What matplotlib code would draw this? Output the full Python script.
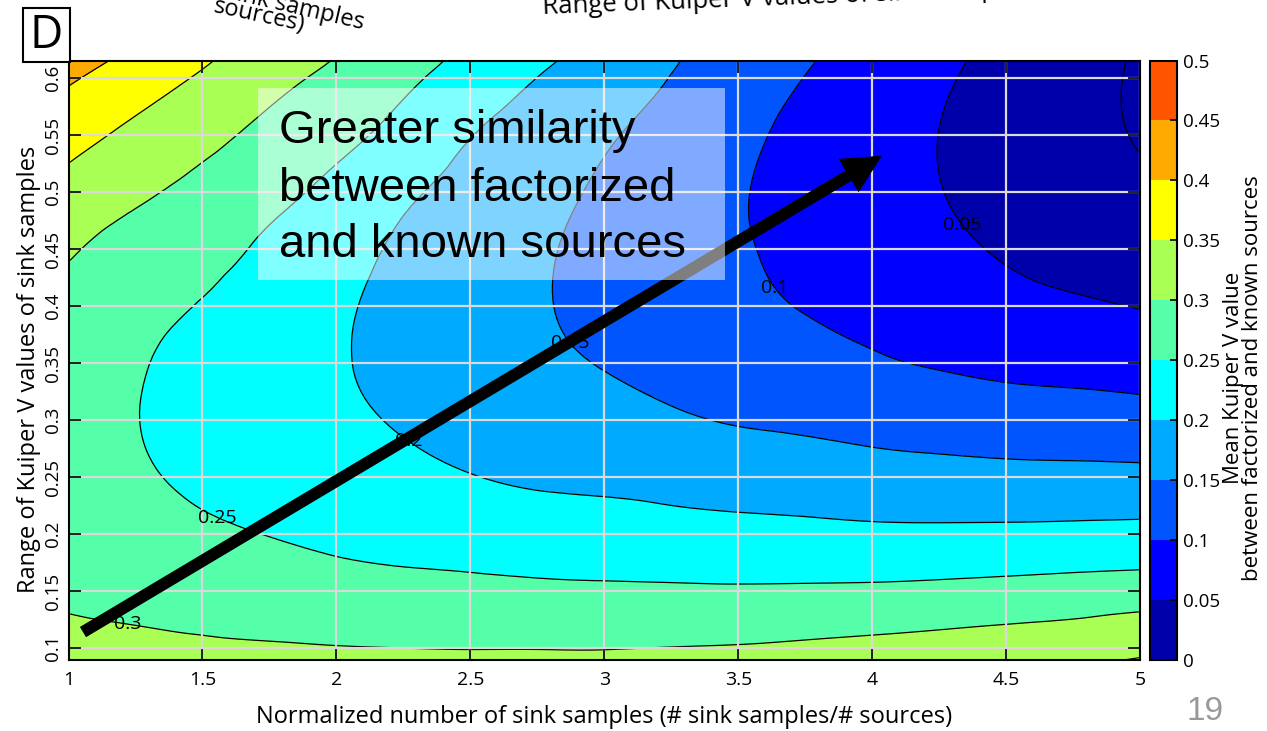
import numpy as np
import matplotlib
matplotlib.use("Agg")
import matplotlib.pyplot as plt
import matplotlib.tri as mtri
from matplotlib.colors import ListedColormap, BoundaryNorm
from matplotlib.cm import ScalarMappable
from matplotlib.patches import Rectangle, FancyArrowPatch, ArrowStyle

plt.rcParams["font.family"] = ["Open Sans", "DejaVu Sans"]

# Normalized number of sink samples (grid columns)
sink_ratio = [1.0, 1.25, 1.5, 1.75, 2.0, 2.25, 2.5, 2.75, 3.0,
              3.25, 3.5, 3.75, 4.0, 4.25, 4.5, 4.75, 5.0]
# Range of Kuiper V values of sink samples (grid rows)
kuiper_range = [0.0895, 0.10, 0.15, 0.20, 0.25, 0.30, 0.35, 0.40,
                0.45, 0.50, 0.55, 0.60, 0.6155]

# Mean Kuiper V value for each sink_ratio column, listed along kuiper_range
v_100 = [0.318, 0.313, 0.2925, 0.278, 0.270, 0.268, 0.2725, 0.283, 0.3057, 0.334, 0.367, 0.406, 0.42]
v_125 = [0.316, 0.3106, 0.2853, 0.2668, 0.2553, 0.251, 0.254, 0.2644, 0.2821, 0.308, 0.3387, 0.3744, 0.3876]
v_150 = [0.312, 0.306, 0.280, 0.257, 0.2429, 0.2358, 0.236, 0.2473, 0.2672, 0.2877, 0.3127, 0.3443, 0.3556]
v_175 = [0.311, 0.304, 0.2733, 0.249, 0.2319, 0.2219, 0.219, 0.224, 0.2408, 0.2643, 0.288, 0.3138, 0.324]
v_200 = [0.3088, 0.3015, 0.267, 0.2407, 0.2214, 0.209, 0.2036, 0.2056, 0.2167, 0.2368, 0.2633, 0.2893, 0.298]
v_225 = [0.308, 0.300, 0.264, 0.2334, 0.2113, 0.196, 0.1882, 0.1874, 0.1928, 0.2078, 0.2337, 0.2601, 0.2698]
v_250 = [0.307, 0.299, 0.2618, 0.228, 0.2014, 0.1834, 0.1732, 0.1704, 0.1743, 0.1845, 0.2013, 0.2281, 0.2372]
v_275 = [0.307, 0.299, 0.2587, 0.2235, 0.1936, 0.1726, 0.1593, 0.1539, 0.1559, 0.1642, 0.1787, 0.1996, 0.208]
v_300 = [0.307, 0.2988, 0.257, 0.222, 0.189, 0.165, 0.148, 0.1386, 0.1373, 0.1432, 0.1558, 0.1753, 0.1813]
v_325 = [0.309, 0.3008, 0.2563, 0.2179, 0.183, 0.1555, 0.136, 0.1245, 0.12, 0.1225, 0.1321, 0.1488, 0.1535]
v_350 = [0.3117, 0.3027, 0.2557, 0.2145, 0.177, 0.1472, 0.1264, 0.112, 0.1043, 0.1032, 0.1096, 0.1234, 0.13]
v_375 = [0.317, 0.307, 0.2567, 0.2119, 0.1739, 0.1422, 0.118, 0.0974, 0.0883, 0.0852, 0.0886, 0.0992, 0.104]
v_400 = [0.3225, 0.3118, 0.2582, 0.2092, 0.1692, 0.134, 0.1053, 0.0858, 0.0735, 0.0678, 0.069, 0.0773, 0.0819]
v_425 = [0.3297, 0.318, 0.2612, 0.2091, 0.166, 0.128, 0.0965, 0.0743, 0.0592, 0.0512, 0.0497, 0.0558, 0.0592]
v_450 = [0.336, 0.3242, 0.2652, 0.2102, 0.1635, 0.123, 0.089, 0.063, 0.0459, 0.0353, 0.0315, 0.0348, 0.0376]
v_475 = [0.3427, 0.3305, 0.2695, 0.212, 0.1628, 0.1205, 0.085, 0.0556, 0.0347, 0.0209, 0.0141, 0.0146, 0.0167]
v_500 = [0.352, 0.3417, 0.2744, 0.214, 0.162, 0.1172, 0.080, 0.0485, 0.027, 0.0095, -0.003, -0.005, -0.0045]

columns = [v_100, v_125, v_150, v_175, v_200, v_225, v_250, v_275, v_300,
           v_325, v_350, v_375, v_400, v_425, v_450, v_475, v_500]

bounds = [0, 0.05, 0.1, 0.15, 0.2, 0.25, 0.3, 0.35, 0.4, 0.45, 0.5]
bound_labels = ["0", "0.05", "0.1", "0.15", "0.2", "0.25", "0.3", "0.35", "0.4", "0.45", "0.5"]
labelled_levels = [0.05, 0.1, 0.15, 0.2, 0.25, 0.3]
plain_levels = [0, 0.35, 0.4]
label_spots = [(1.22, 0.121), (1.56, 0.216), (2.27, 0.281),
               (2.88, 0.369), (3.63, 0.415), (4.33, 0.470)]
band_colors = ["#0000AA", "#0000FF", "#0055FF", "#00AAFF", "#00FFFF",
               "#55FFAA", "#AAFF55", "#FFFF00", "#FFAA00", "#FF5500"]

x_ticks = [1, 1.5, 2, 2.5, 3, 3.5, 4, 4.5, 5]
x_tick_labels = ["1", "1.5", "2", "2.5", "3", "3.5", "4", "4.5", "5"]
y_ticks = [0.1, 0.15, 0.2, 0.25, 0.3, 0.35, 0.4, 0.45, 0.5, 0.55, 0.6]
y_tick_labels = ["0.1", "0.15", "0.2", "0.25", "0.3", "0.35", "0.4", "0.45", "0.5", "0.55", "0.6"]

W, H = 1267, 731
fig = plt.figure(figsize=(W / 100, H / 100), dpi=100)
fig.patch.set_facecolor("white")
ax = fig.add_axes([68.5 / W, 1 - 660 / H, (1140 - 68.5) / W, 599.5 / H])
cax = fig.add_axes([1150 / W, 1 - 660 / H, 27 / W, 599.5 / H])

X, Y = np.meshgrid(sink_ratio, kuiper_range)
Z = np.column_stack(columns)

# smooth contouring of the surface on a refined triangulation (built in unit-square space)
x0, x1 = sink_ratio[0], sink_ratio[-1]
y0, y1 = kuiper_range[0], kuiper_range[-1]
base = mtri.Triangulation(((X - x0) / (x1 - x0)).ravel(), ((Y - y0) / (y1 - y0)).ravel())
fine, z_fine = mtri.UniformTriRefiner(base).refine_field(Z.ravel(), subdiv=3)
surf = mtri.Triangulation(fine.x * (x1 - x0) + x0, fine.y * (y1 - y0) + y0, fine.triangles)

# filled bands (values below zero share the lowest colour)
ax.tricontourf(surf, z_fine, levels=[-0.05] + bounds,
               colors=[band_colors[0]] + band_colors, zorder=1)
cs = ax.tricontour(surf, z_fine, levels=labelled_levels, colors="k", linewidths=0.9, zorder=2)
ax.tricontour(surf, z_fine, levels=plain_levels, colors="k", linewidths=0.9, zorder=2)
texts = ax.clabel(cs, manual=label_spots, inline=False, fontsize=14, fmt="%g", zorder=3)
for t in texts:
    t.set_rotation(0)

ax.set_xlim(1, 5)
ax.set_ylim(0.0895, 0.6155)
ax.set_xticks(x_ticks)
ax.set_xticklabels(x_tick_labels)
ax.set_yticks(y_ticks)
ax.set_yticklabels(y_tick_labels)
ax.set_axisbelow(False)
ax.grid(True, color="#dadada", linewidth=1.6)
ax.tick_params(direction="in", length=8.5, width=1.2, top=True, right=True,
               labelsize=14, colors="black")
ax.tick_params(axis="x", pad=8)
ax.tick_params(axis="y", labelrotation=90, pad=5, labelsize=13.5)
for lbl in ax.get_yticklabels():
    lbl.set_va("center")
for sp in ax.spines.values():
    sp.set_linewidth(1.5)
    sp.set_zorder(4.5)

ax.set_xlabel("Normalized number of sink samples (# sink samples/# sources)", fontsize=17)
ax.xaxis.set_label_coords(0.5, -0.075)
ax.set_ylabel("Range of Kuiper V values of sink samples", fontsize=17)
ax.yaxis.set_label_coords(-0.026, 0.485)

# trend arrow
arrow = FancyArrowPatch(posA=(1.054, 0.114), posB=(4.037, 0.532),
                        arrowstyle=ArrowStyle("Simple", head_length=28, head_width=28, tail_width=8.6),
                        mutation_scale=1, color="black", lw=0, shrinkA=0, shrinkB=0, zorder=4)
ax.add_patch(arrow)

# translucent annotation panel
ax.add_patch(Rectangle((1.707, 0.4228), 3.449 - 1.707, 0.5912 - 0.4228,
                       facecolor="white", alpha=0.5, edgecolor="none", zorder=5))
for line, yb in zip(["Greater similarity", "between factorized", "and known sources"],
                    [0.543, 0.4921, 0.443]):
    ax.text(1.784, yb, line, fontsize=34, family=["Liberation Sans", "DejaVu Sans"],
            va="baseline", ha="left", zorder=6)

# colour bar
sm = ScalarMappable(norm=BoundaryNorm(bounds, len(band_colors)), cmap=ListedColormap(band_colors))
cb = fig.colorbar(sm, cax=cax, ticks=bounds)
cb.ax.set_yticklabels(bound_labels)
cax.tick_params(direction="in", length=5, width=1.2, labelsize=13.5, pad=4)
cb.outline.set_linewidth(1.5)
fig.text(1243 / W, 1 - 378 / H, "Mean Kuiper V value\nbetween factorized and known sources",
         rotation=90, ha="center", va="center", multialignment="center", fontsize=16,
         linespacing=0.88)

# panel letter
fig.add_artist(Rectangle((23 / W, 1 - 62 / H), 47 / W, 54 / H, transform=fig.transFigure,
                         facecolor="white", edgecolor="black", linewidth=1.5))
fig.text(46.5 / W, 1 - 36 / H, "D", fontsize=33, ha="center", va="center")

# clipped headings of the neighbouring panel
fig.text(543 / W, 1 - 14 / H, "Range of Kuiper V values of sink samples", fontsize=18.5,
         rotation=2.2, rotation_mode="anchor", ha="left", va="baseline")
fig.text(363 / W, 1 - 29 / H, "of sink samples", fontsize=17,
         rotation=-13, rotation_mode="anchor", ha="right", va="baseline")
fig.text(303 / W, 1 - 31 / H, "sources)", fontsize=17,
         rotation=-12, rotation_mode="anchor", ha="right", va="baseline")

# slide number
fig.text(1205 / W, 1 - 712 / H, "19", fontsize=24, color="#999999",
         family=["Liberation Sans", "DejaVu Sans"], ha="center", va="center")

fig.savefig("out.png", dpi=100)
